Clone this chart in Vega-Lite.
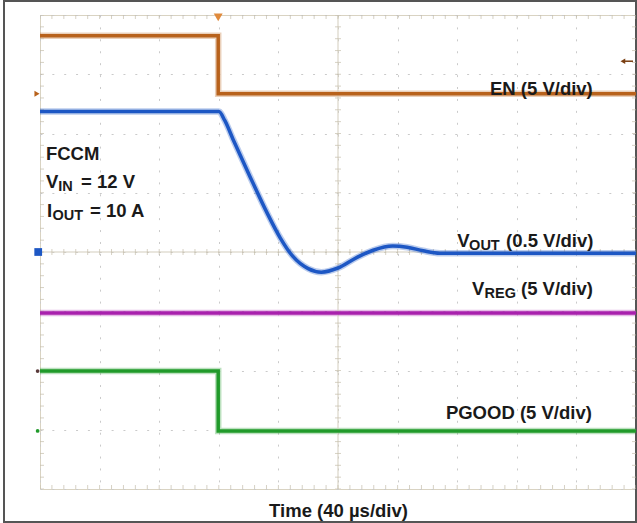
{
  "$schema": "https://vega.github.io/schema/vega-lite/v6.json",
  "width": 596,
  "height": 474,
  "autosize": {"type": "none"},
  "padding": {"left": 40, "top": 15, "right": 1, "bottom": 34},
  "background": "white",
  "config": {
    "view": {"stroke": "#d9d3c2", "strokeWidth": 1},
    "font": "Liberation Sans"
  },
  "datasets": {
    "traces": [
      {"t": 0, "v": 3.65, "s": "EN"},
      {"t": 2.99, "v": 3.65, "s": "EN"},
      {"t": 2.99, "v": 2.67, "s": "EN"},
      {"t": 10, "v": 2.67, "s": "EN"},
      {"t": 0, "v": 2.37, "s": "VOUT"},
      {"t": 3.0, "v": 2.37, "s": "VOUT"},
      {"t": 3.1, "v": 2.22, "s": "VOUT"},
      {"t": 3.24, "v": 1.9, "s": "VOUT"},
      {"t": 3.52, "v": 1.28, "s": "VOUT"},
      {"t": 3.81, "v": 0.66, "s": "VOUT"},
      {"t": 4.03, "v": 0.24, "s": "VOUT"},
      {"t": 4.24, "v": -0.07, "s": "VOUT"},
      {"t": 4.5, "v": -0.28, "s": "VOUT"},
      {"t": 4.72, "v": -0.34, "s": "VOUT"},
      {"t": 5.0, "v": -0.27, "s": "VOUT"},
      {"t": 5.32, "v": -0.09, "s": "VOUT"},
      {"t": 5.59, "v": 0.03, "s": "VOUT"},
      {"t": 5.92, "v": 0.1, "s": "VOUT"},
      {"t": 6.16, "v": 0.08, "s": "VOUT"},
      {"t": 6.43, "v": 0.02, "s": "VOUT"},
      {"t": 6.71, "v": -0.02, "s": "VOUT"},
      {"t": 7.16, "v": -0.02, "s": "VOUT"},
      {"t": 10, "v": -0.02, "s": "VOUT"},
      {"t": 0, "v": -1.03, "s": "VREG"},
      {"t": 10, "v": -1.03, "s": "VREG"},
      {"t": 0, "v": -2.01, "s": "PGOOD"},
      {"t": 2.99, "v": -2.01, "s": "PGOOD"},
      {"t": 2.99, "v": -3.02, "s": "PGOOD"},
      {"t": 10, "v": -3.02, "s": "PGOOD"}
    ],
    "xticks": [
      {"m": 0}, {"m": 0.2}, {"m": 0.4}, {"m": 0.6}, {"m": 0.8},
      {"m": 1}, {"m": 1.2}, {"m": 1.4}, {"m": 1.6}, {"m": 1.8},
      {"m": 2}, {"m": 2.2}, {"m": 2.4}, {"m": 2.6}, {"m": 2.8},
      {"m": 3}, {"m": 3.2}, {"m": 3.4}, {"m": 3.6}, {"m": 3.8},
      {"m": 4}, {"m": 4.2}, {"m": 4.4}, {"m": 4.6}, {"m": 4.8},
      {"m": 5}, {"m": 5.2}, {"m": 5.4}, {"m": 5.6}, {"m": 5.8},
      {"m": 6}, {"m": 6.2}, {"m": 6.4}, {"m": 6.6}, {"m": 6.8},
      {"m": 7}, {"m": 7.2}, {"m": 7.4}, {"m": 7.6}, {"m": 7.8},
      {"m": 8}, {"m": 8.2}, {"m": 8.4}, {"m": 8.6}, {"m": 8.8},
      {"m": 9}, {"m": 9.2}, {"m": 9.4}, {"m": 9.6}, {"m": 9.8},
      {"m": 10}
    ],
    "yticks": [
      {"m": -4}, {"m": -3.8}, {"m": -3.6}, {"m": -3.4}, {"m": -3.2},
      {"m": -3}, {"m": -2.8}, {"m": -2.6}, {"m": -2.4}, {"m": -2.2},
      {"m": -2}, {"m": -1.8}, {"m": -1.6}, {"m": -1.4}, {"m": -1.2},
      {"m": -1}, {"m": -0.8}, {"m": -0.6}, {"m": -0.4}, {"m": -0.2},
      {"m": 0}, {"m": 0.2}, {"m": 0.4}, {"m": 0.6}, {"m": 0.8},
      {"m": 1}, {"m": 1.2}, {"m": 1.4}, {"m": 1.6}, {"m": 1.8},
      {"m": 2}, {"m": 2.2}, {"m": 2.4}, {"m": 2.6}, {"m": 2.8},
      {"m": 3}, {"m": 3.2}, {"m": 3.4}, {"m": 3.6}, {"m": 3.8},
      {"m": 4}
    ],
    "labels": [
      {"x": 7.55, "y": 2.65, "text": "EN (5 V/div)"},
      {"x": 7.0, "y": 0.084, "text": "V"},
      {"x": 7.82, "y": 0.084, "text": "(0.5 V/div)"},
      {"x": 7.25, "y": -0.726, "text": "V"},
      {"x": 8.07, "y": -0.726, "text": "(5 V/div)"},
      {"x": 6.81, "y": -2.82, "text": "PGOOD (5 V/div)"},
      {"x": 0.1, "y": 1.553, "text": "FCCM"},
      {"x": 0.1, "y": 1.08, "text": "V"},
      {"x": 0.688, "y": 1.08, "text": "= 12 V"},
      {"x": 0.117, "y": 0.59, "text": "I"},
      {"x": 0.84, "y": 0.59, "text": "= 10 A"}
    ],
    "subs": [
      {"x": 7.2, "y": 0.084, "text": "OUT"},
      {"x": 7.46, "y": -0.726, "text": "REG"},
      {"x": 0.307, "y": 1.08, "text": "IN"},
      {"x": 0.21, "y": 0.59, "text": "OUT"}
    ]
  },
  "layer": [
    {
      "data": {"name": "traces"},
      "transform": [{"filter": "datum.s !== 'VOUT'"}],
      "mark": {"type": "line", "strokeWidth": 6.5, "opacity": 0.3, "clip": true},
      "encoding": {
        "x": {
          "field": "t", "type": "quantitative",
          "scale": {"domain": [0, 10], "nice": false, "zero": false},
          "axis": {
            "values": [0, 1, 2, 3, 4, 5, 6, 7, 8, 9, 10],
            "grid": true, "gridColor": "#cacaca", "gridDash": [2, 9.92], "gridWidth": 1,
            "domain": false, "ticks": false, "labels": false,
            "title": "Time (40 µs/div)",
            "titleFont": "Liberation Sans", "titleFontSize": 18.5, "titleFontWeight": "bold",
            "titleColor": "#1a1a1a", "titleBaseline": "alphabetic", "titleY": 27
          }
        },
        "y": {
          "field": "v", "type": "quantitative",
          "scale": {"domain": [-4, 4], "nice": false, "zero": false},
          "axis": {
            "values": [-4, -3, -2, -1, 0, 1, 2, 3, 4],
            "grid": true, "gridColor": "#cacaca", "gridDash": [2, 9.85], "gridWidth": 1,
            "domain": false, "ticks": false, "labels": false, "title": null
          }
        },
        "color": {
          "field": "s", "type": "nominal", "legend": null,
          "scale": {"domain": ["EN", "VOUT", "VREG", "PGOOD"], "range": ["#b8621c", "#1d57c4", "#a821ad", "#209a2a"]}
        },
        "detail": {"field": "s"}
      }
    },
    {
      "data": {"values": [{}]},
      "mark": {"type": "rect", "fill": null, "fillOpacity": 0, "stroke": "#555555", "strokeWidth": 2, "clip": false},
      "encoding": {
        "x": {"datum": -0.604},
        "x2": {"datum": 10.0},
        "y": {"datum": 4.236},
        "y2": {"datum": -4.557}
      }
    },
    {
      "data": {"values": [{}]},
      "mark": {"type": "rule", "color": "#d3cdbd", "strokeWidth": 1},
      "encoding": {"x": {"datum": 5}}
    },
    {
      "data": {"values": [{}]},
      "mark": {"type": "rule", "color": "#d3cdbd", "strokeWidth": 1},
      "encoding": {"y": {"datum": 0}}
    },
    {
      "data": {"name": "xticks"},
      "layer": [
        {"mark": {"type": "tick", "orient": "vertical", "size": 6, "thickness": 1, "color": "#c4bdab", "clip": true},
         "encoding": {"x": {"field": "m", "type": "quantitative"}, "y": {"datum": 0}}},
        {"mark": {"type": "tick", "orient": "vertical", "size": 8, "thickness": 1, "color": "#c4bdab", "clip": true},
         "encoding": {"x": {"field": "m", "type": "quantitative"}, "y": {"datum": 4}}},
        {"mark": {"type": "tick", "orient": "vertical", "size": 8, "thickness": 1, "color": "#c4bdab", "clip": true},
         "encoding": {"x": {"field": "m", "type": "quantitative"}, "y": {"datum": -4}}}
      ]
    },
    {
      "data": {"name": "yticks"},
      "layer": [
        {"mark": {"type": "tick", "orient": "horizontal", "size": 6, "thickness": 1, "color": "#c4bdab", "clip": true},
         "encoding": {"y": {"field": "m", "type": "quantitative"}, "x": {"datum": 5}}},
        {"mark": {"type": "tick", "orient": "horizontal", "size": 8, "thickness": 1, "color": "#c4bdab", "clip": true},
         "encoding": {"y": {"field": "m", "type": "quantitative"}, "x": {"datum": 0}}},
        {"mark": {"type": "tick", "orient": "horizontal", "size": 8, "thickness": 1, "color": "#c4bdab", "clip": true},
         "encoding": {"y": {"field": "m", "type": "quantitative"}, "x": {"datum": 10}}}
      ]
    },
    {
      "data": {"name": "traces"},
      "transform": [{"filter": "datum.s !== 'VOUT'"}],
      "mark": {"type": "line", "strokeWidth": 3.5, "clip": true},
      "encoding": {
        "x": {"field": "t", "type": "quantitative"},
        "y": {"field": "v", "type": "quantitative"},
        "color": {"field": "s", "type": "nominal", "legend": null},
        "detail": {"field": "s"}
      }
    },
    {
      "data": {"name": "traces"},
      "transform": [{"filter": "datum.s === 'VOUT'"}],
      "layer": [
        {
          "mark": {"type": "line", "strokeWidth": 6.5, "opacity": 0.3, "interpolate": "monotone", "clip": true},
          "encoding": {
            "x": {"field": "t", "type": "quantitative"},
            "y": {"field": "v", "type": "quantitative"},
            "color": {"field": "s", "type": "nominal", "legend": null}
          }
        },
        {
          "mark": {"type": "line", "strokeWidth": 3.5, "interpolate": "monotone", "clip": true},
          "encoding": {
            "x": {"field": "t", "type": "quantitative"},
            "y": {"field": "v", "type": "quantitative"},
            "color": {"field": "s", "type": "nominal", "legend": null}
          }
        }
      ]
    },
    {
      "data": {"values": [{}]},
      "mark": {"type": "point", "shape": "triangle-down", "filled": true, "size": 80, "color": "#e08a3c", "opacity": 1, "clip": false},
      "encoding": {"x": {"datum": 2.99}, "y": {"datum": 3.96}}
    },
    {
      "data": {"values": [{}]},
      "mark": {"type": "point", "shape": "triangle-right", "filled": true, "size": 35, "color": "#b8621c", "opacity": 1, "clip": false},
      "encoding": {"x": {"datum": -0.05}, "y": {"datum": 2.67}}
    },
    {
      "data": {"values": [{}]},
      "mark": {"type": "point", "shape": "square", "filled": true, "size": 60, "color": "#1d57c4", "opacity": 1, "clip": false},
      "encoding": {"x": {"datum": -0.03}, "y": {"datum": 0}}
    },
    {
      "data": {"values": [{}]},
      "mark": {"type": "point", "shape": "circle", "filled": true, "size": 14, "color": "#5a3a3a", "opacity": 1, "clip": false},
      "encoding": {"x": {"datum": -0.04}, "y": {"datum": -2.01}}
    },
    {
      "data": {"values": [{}]},
      "mark": {"type": "point", "shape": "circle", "filled": true, "size": 14, "color": "#209a2a", "opacity": 1, "clip": false},
      "encoding": {"x": {"datum": -0.04}, "y": {"datum": -3.02}}
    },
    {
      "data": {"values": [{}]},
      "mark": {"type": "point", "shape": "triangle-left", "filled": true, "size": 30, "color": "#7a3f12", "opacity": 1, "clip": false},
      "encoding": {"x": {"datum": 9.78}, "y": {"datum": 3.22}}
    },
    {
      "data": {"values": [{}]},
      "mark": {"type": "rule", "color": "#7a3f12", "strokeWidth": 1.5, "clip": false},
      "encoding": {"x": {"datum": 9.8}, "x2": {"datum": 9.95}, "y": {"datum": 3.22}}
    },
    {
      "data": {"name": "labels"},
      "mark": {"type": "text", "align": "left", "baseline": "alphabetic", "font": "Liberation Sans", "fontWeight": "bold", "fontSize": 18.5, "color": "#1a1a1a", "clip": false},
      "encoding": {
        "x": {"field": "x", "type": "quantitative"},
        "y": {"field": "y", "type": "quantitative"},
        "text": {"field": "text"}
      }
    },
    {
      "data": {"name": "subs"},
      "mark": {"type": "text", "align": "left", "baseline": "alphabetic", "font": "Liberation Sans", "fontWeight": "bold", "fontSize": 14.5, "dy": 3, "color": "#1a1a1a", "clip": false},
      "encoding": {
        "x": {"field": "x", "type": "quantitative"},
        "y": {"field": "y", "type": "quantitative"},
        "text": {"field": "text"}
      }
    }
  ]
}
